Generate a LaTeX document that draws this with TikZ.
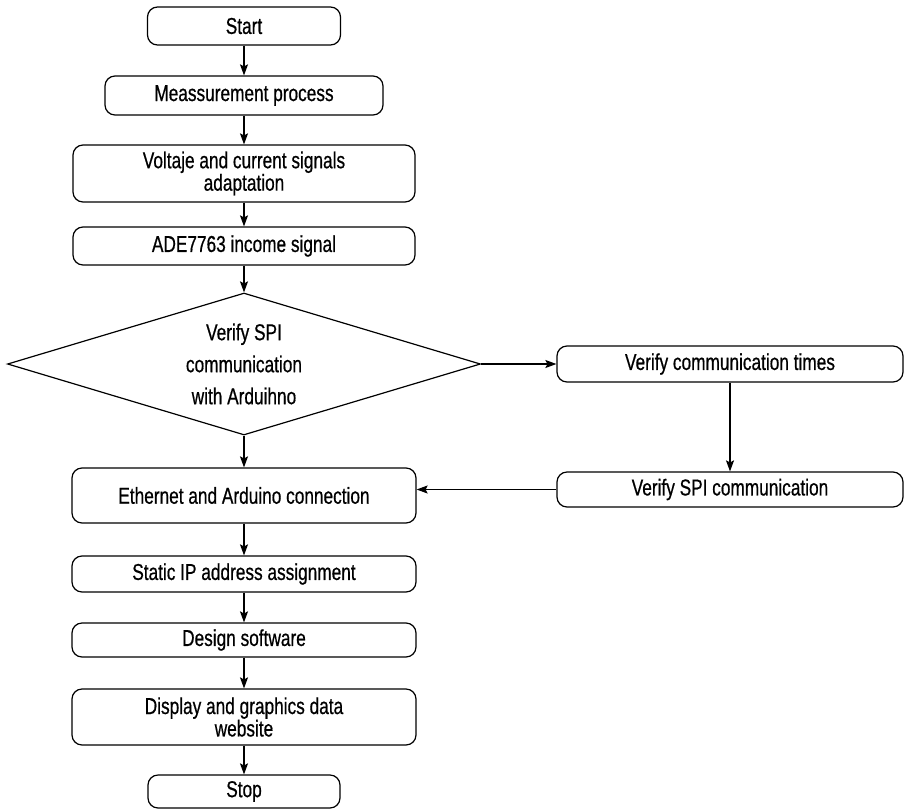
\documentclass[tikz,border=0pt]{standalone}
\usepackage{fontspec}
\setmainfont[FakeStretch=0.75,FakeBold=0.6]{Liberation Sans}
\usetikzlibrary{shapes.geometric,arrows.meta}
\tikzset{
  box/.style={draw, line width=1.2pt, rounded corners=10pt, inner sep=0pt, align=center,
    font=\fontsize{23}{21}\selectfont},
  dec/.style={draw, line width=1.2pt, diamond, aspect=3.33, inner sep=0pt, align=center,
    minimum width=473pt, minimum height=142pt, font=\fontsize{23}{32}\selectfont},
  flow/.style={line width=1.2pt, -{Stealth[length=11pt,width=8pt,inset=2pt]}}
}
\begin{document}
\begin{tikzpicture}[x=1pt,y=-1pt]
\useasboundingbox (0,0) rectangle (905,809);
\node[box, minimum width=193pt, minimum height=38pt] (start) at (244,26) {Start};
\node[box, minimum width=278pt, minimum height=39pt] (meas) at (244,95.5) {Meassurement process};
\node[box, minimum width=342pt, minimum height=57pt] (volt) at (244,173.5) {Voltaje and current signals\\adaptation};
\node[box, minimum width=342pt, minimum height=38pt] (ade) at (244,246) {ADE7763 income signal};
\node[dec] (spi) at (244,364) {Verify SPI\\communication\\with Arduihno};
\node[box, minimum width=346pt, minimum height=36pt] (vct) at (730,364) {Verify communication times};
\node[box, minimum width=346pt, minimum height=35pt] (vspi) at (730,489.5) {Verify SPI communication};
\node[box, minimum width=344pt, minimum height=55pt] (eth) at (244,495.5) {Ethernet and Arduino connection};
\node[box, minimum width=344pt, minimum height=36pt] (sip) at (244,574) {Static IP address assignment};
\node[box, minimum width=344pt, minimum height=34pt] (ds) at (244,640) {Design software};
\node[box, minimum width=344pt, minimum height=56pt] (disp) at (244,717) {Display and graphics data\\website};
\node[box, minimum width=192pt, minimum height=33pt] (stop) at (244,791.5) {Stop};
\draw[flow] (start) -- (meas);
\draw[flow] (meas) -- (volt);
\draw[flow] (volt) -- (ade);
\draw[flow] (ade) -- (spi);
\draw[flow] (spi) -- (vct);
\draw[flow] (vct) -- (vspi);
\draw[flow] (vspi.west) -- (vspi.west -| eth.east);
\draw[flow] (spi) -- (eth);
\draw[flow] (eth) -- (sip);
\draw[flow] (sip) -- (ds);
\draw[flow] (ds) -- (disp);
\draw[flow] (disp) -- (stop);
\end{tikzpicture}
\end{document}
